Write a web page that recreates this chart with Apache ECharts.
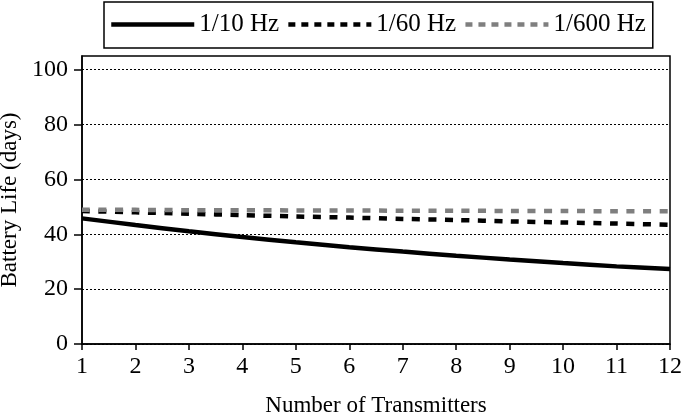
<!DOCTYPE html>
<html>
<head>
<meta charset="utf-8">
<script src="https://cdn.jsdelivr.net/npm/echarts@6/dist/echarts.min.js"></script>
<style>html,body{margin:0;padding:0;background:#fff}#c{width:685px;height:416px}</style>
</head>
<body>
<div id="c"></div>
<script>
const transmitters = [1,2,3,4,5,6,7,8,9,10,11,12];
const hz10  = [45.8, 43.4, 41.1, 39.0, 37.1, 35.3, 33.7, 32.2, 30.8, 29.5, 28.3, 27.3];
const hz60  = [48.5, 48.0, 47.5, 47.0, 46.5, 46.1, 45.6, 45.2, 44.7, 44.3, 43.9, 43.5];
const hz600 = [48.9, 48.9, 48.8, 48.8, 48.7, 48.7, 48.6, 48.6, 48.5, 48.5, 48.4, 48.4];
const seriesNames = ['1/10 Hz', '1/60 Hz', '1/600 Hz'];
const yTicks = [0, 20, 40, 60, 80, 100];

const FONT = 'Liberation Serif';
const pairs = arr => transmitters.map((x, i) => [x, arr[i]]);

const chart = echarts.init(document.getElementById('c'));
chart.setOption({
  animation: false,
  backgroundColor: '#fff',
  textStyle: { fontFamily: FONT, color: '#000' },
  legend: {
    left: 104, top: 2,
    padding: [10, 7, 11, 5],
    itemGap: 7,
    itemWidth: 83,
    itemHeight: 14,
    borderColor: '#000',
    borderWidth: 1.5,
    borderRadius: 0,
    itemStyle: { opacity: 0 },
    textStyle: { fontFamily: FONT, fontSize: 25, color: '#000' },
    data: [
      { name: seriesNames[0], lineStyle: { width: 4.5 } },
      { name: seriesNames[1], lineStyle: { width: 4.5, type: [7, 6], cap: 'butt' } },
      { name: seriesNames[2], lineStyle: { width: 4.5, type: [7, 6], cap: 'butt' } }
    ]
  },
  grid: {
    left: 82, right: 15, top: 56, bottom: 72,
    outerBoundsMode: 'none',
    containLabel: false,
    show: true, borderColor: '#000', borderWidth: 1.5, backgroundColor: 'transparent'
  },
  xAxis: {
    type: 'value', min: 1, max: 12, interval: 1,
    name: 'Number of Transmitters', nameLocation: 'middle', nameGap: 50,
    nameTextStyle: { fontFamily: FONT, fontSize: 23, color: '#000' },
    axisLine: { lineStyle: { color: '#000', width: 1.5 } },
    axisTick: { show: true, length: 6, lineStyle: { color: '#000', width: 1.5 } },
    axisLabel: { fontFamily: FONT, fontSize: 24, color: '#000', margin: 11 },
    splitLine: { show: false }
  },
  yAxis: {
    type: 'value', min: 0, max: 105, interval: 20,
    name: 'Battery Life (days)', nameLocation: 'middle', nameGap: 51, nameRotate: 90,
    nameTextStyle: { fontFamily: FONT, fontSize: 23, color: '#000' },
    axisLine: { show: true, lineStyle: { color: '#000', width: 1.5 } },
    axisTick: { show: true, length: 8, lineStyle: { color: '#000', width: 1.5 },
                customValues: yTicks },
    axisLabel: { fontFamily: FONT, fontSize: 24, color: '#000', margin: 14,
                 customValues: yTicks },
    splitLine: { show: true, lineStyle: { color: '#000', width: 1, type: [2, 2] } }
  },
  series: [
    { name: seriesNames[0], type: 'line', data: pairs(hz10), smooth: 0.3, symbol: 'none',
      lineStyle: { color: '#000', width: 4.5 }, itemStyle: { color: '#000' } },
    { name: seriesNames[1], type: 'line', data: pairs(hz60), smooth: 0.3, symbol: 'none',
      lineStyle: { color: '#000', width: 4.5, type: [8, 8.5], cap: 'butt' }, itemStyle: { color: '#000' } },
    { name: seriesNames[2], type: 'line', data: pairs(hz600), smooth: 0.3, symbol: 'none',
      lineStyle: { color: '#7f7f7f', width: 4.5, type: [8, 8.5], cap: 'butt' }, itemStyle: { color: '#7f7f7f' } }
  ]
});
</script>
</body>
</html>
